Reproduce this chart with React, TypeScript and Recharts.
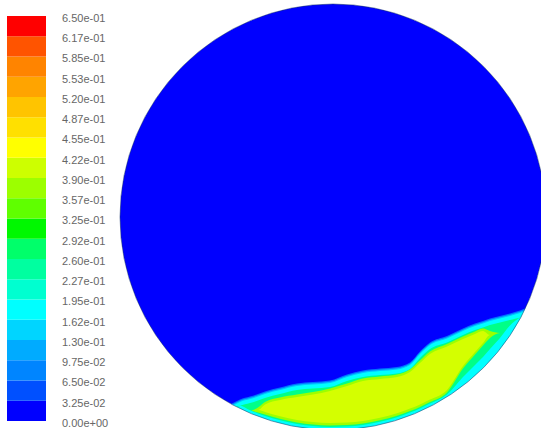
import React from 'react';
import { ComposedChart, Area, XAxis, YAxis, ReferenceDot, BarChart, Bar } from 'recharts';

// ---------- colour scale (contour levels) ----------
const levels = [
  0, 0.0325, 0.065, 0.0975, 0.13, 0.1625, 0.195, 0.2275, 0.26, 0.2925, 0.325,
  0.3575, 0.39, 0.4225, 0.455, 0.4875, 0.52, 0.5525, 0.585, 0.6175, 0.65,
];
const levelLabels = [
  '0.00e+00', '3.25e-02', '6.50e-02', '9.75e-02', '1.30e-01', '1.62e-01', '1.95e-01',
  '2.27e-01', '2.60e-01', '2.92e-01', '3.25e-01', '3.57e-01', '3.90e-01', '4.22e-01',
  '4.55e-01', '4.87e-01', '5.20e-01', '5.53e-01', '5.85e-01', '6.17e-01', '6.50e-01',
];
const bandColors = [
  '#0000ff', '#0050ff', '#0085ff', '#00abff', '#00d5ff', '#00ffff', '#00ffd0',
  '#00ffa0', '#00ff6a', '#00f800', '#5fff00', '#9cff00', '#cdff00', '#ffff00',
  '#ffe000', '#ffc400', '#ffa400', '#ff8400', '#ff5400', '#ff0000',
];

// ---------- cross-section (circle radius 213, centre at 0,0) ----------
const sectionRadius = 213;
const posX = [-107, -101, -93, -83, -75, -68, -53, -36, -20, -3, 14, 30, 47, 64, 77, 87, 97, 114, 130, 142, 150, 157, 167, 177, 187, 197];
// contour boundaries of the plume
const edgeTop = [-189.5, -186.5, -182.5, -179.5, -177, -174.5, -170.5, -166.5, -165, -163.5, -157.5, -153.5, -151.5, -150, -145.5, -134.5, -125.5, -119, -111.5, -106.5, -104, -101.5, -99, -96.5, -93.5, -89.5];
const skyTop = [-190.8, -187.8, -183.8, -180.8, -178.3, -175.8, -171.8, -167.8, -166.3, -164.8, -158.8, -154.8, -152.8, -151.3, -146.8, -135.8, -126.8, -120.3, -112.8, -107.8, -105.3, -102.8, -100.3, -97.8, -94.8, -90.8];
const outerBottom = [-196, -200, -204, -208, -211, -214, -218, -222, -224, -225, -225, -223, -220, -215, -211, -206, -202, -192, -181, -171, -163, -156, -144, -131, -114, -93];
const cyanTop = [-192, -189, -185, -182, -179.5, -177, -173, -169, -167.5, -166, -160, -156, -154, -152.5, -148, -137, -128, -121.5, -114, -109, -106.5, -104, -101.5, -99, -96, -92];
const greenTop = [-196, -193, -188.8, -186, -183.5, -181, -177, -173, -171.5, -170, -164, -160, -158, -156.5, -152, -141, -132, -125.5, -118, -113, -110.5, -108, -105.5, -103, -100.5, -96];
const greenBottom = [-196, -193, -188.8, -193.2, -196.4, -198.9, -203.3, -206.9, -209.1, -210, -209.5, -207.9, -204.8, -200.2, -195.6, -191.4, -186.6, -177.5, -160, -148, -140, -132, -121, -108.5, -100.5, -96];
const limeTop = [-193.5, -193.5, -193.5, -193.5, -190.5, -185, -180.5, -177.5, -175, -171.5, -166.5, -161.5, -159.5, -157.5, -152.5, -143.5, -134.5, -127, -119.5, -114.5, -111.5, -114, -116, -116, -116, -116];
const limeBottom = [-193.5, -193.5, -193.5, -193.5, -195.5, -197.4, -201.8, -205.4, -207.6, -208.5, -208, -206.4, -203.3, -198.7, -194.1, -189.9, -185.1, -175.4, -151.5, -137.5, -128.5, -121, -116, -116, -116, -116];
const coreTop = [-193, -193, -193, -193, -193, -187.5, -183, -180, -177.5, -174, -169, -164, -162, -160, -155, -146, -137, -129.5, -122, -117, -114, -118, -118, -118, -118, -118];
const coreBottom = [-193, -193, -193, -193, -193, -194.9, -199.3, -202.9, -205.1, -206, -205.5, -203.9, -200.8, -196.2, -191.6, -187.4, -182.6, -172.9, -149, -135, -126, -118, -118, -118, -118, -118];

const plumeRows = posX.map((x, i) => ({
  x,
  edge: [outerBottom[i], edgeTop[i]],
  sky: [outerBottom[i], skyTop[i]],
  cyan: [outerBottom[i], cyanTop[i]],
  green: [greenBottom[i], greenTop[i]],
  lime: [limeBottom[i], limeTop[i]],
  core: [coreBottom[i], coreTop[i]],
}));

const legendRow: Record<string, number | string> = { name: 'scale' };
bandColors.forEach((_, i) => {
  legendRow[`b${i}`] = levels[i + 1] - levels[i];
});

const W = 560;
const H = 440;
const M = { top: 4, left: 120, right: 14, bottom: 10 };
const layer: React.CSSProperties = { position: 'absolute', left: 0, top: 0 };

const plumeLayers = [
  { key: 'edge', color: '#0070ff' },
  { key: 'sky', color: '#00c0ff' },
  { key: 'cyan', color: '#00ffff' },
  { key: 'green', color: '#00ff88' },
  { key: 'lime', color: '#9cff00' },
  { key: 'core', color: '#d4ff00' },
];

export default function App() {
  const dom: [number, number] = [-sectionRadius, sectionRadius];
  return (
    <div style={{ position: 'absolute', left: 0, top: 0, width: 541, height: 428, overflow: 'hidden', background: '#fff' }}>
      <div style={layer}>
        <ComposedChart width={W} height={H} data={plumeRows} margin={M}>
          <XAxis type="number" dataKey="x" domain={dom} allowDataOverflow hide height={0} />
          <YAxis type="number" domain={dom} allowDataOverflow hide width={0} />
          <ReferenceDot x={0} y={0} r={sectionRadius} fill="#0000ff" stroke="none" ifOverflow="visible" />
        </ComposedChart>
      </div>
      <div style={layer}>
        <ComposedChart width={W} height={H} data={plumeRows} margin={M}>
          <XAxis type="number" dataKey="x" domain={dom} allowDataOverflow hide height={0} />
          <YAxis type="number" domain={dom} allowDataOverflow hide width={0} />
          {plumeLayers.map((l) => (
            <Area
              key={l.key}
              type="monotone"
              dataKey={l.key}
              fill={l.color}
              fillOpacity={1}
              stroke="none"
              isAnimationActive={false}
              dot={false}
              activeDot={false}
            />
          ))}
        </ComposedChart>
      </div>
      <div style={layer}>
        <ComposedChart width={W} height={H} data={plumeRows} margin={M}>
          <XAxis type="number" dataKey="x" domain={dom} allowDataOverflow hide height={0} />
          <YAxis type="number" domain={dom} allowDataOverflow hide width={0} />
          <ReferenceDot x={0} y={0} r={sectionRadius + 20} fill="none" stroke="#ffffff" strokeWidth={40} ifOverflow="visible" />
          <ReferenceDot x={0} y={0} r={sectionRadius} fill="none" stroke="#1f3b70" strokeOpacity={0.55} strokeWidth={1} ifOverflow="visible" />
        </ComposedChart>
      </div>
      <div style={layer}>
        <BarChart width={116} height={428} data={[legendRow]} margin={{ top: 16, right: 0, bottom: 7, left: 7 }} barCategoryGap={0} barGap={0}>
          <XAxis type="category" dataKey="name" hide height={0} />
          <YAxis
            type="number"
            orientation="right"
            width={70}
            domain={[0, 0.65]}
            allowDataOverflow
            ticks={levels}
            interval={0}
            axisLine={false}
            tickLine={false}
            tickSize={0}
            tickMargin={16}
            tickFormatter={(v: number) => {
              const i = levels.findIndex((l) => Math.abs(l - v) < 1e-6);
              return i >= 0 ? levelLabels[i] : '';
            }}
            tick={{ fontSize: 11, fill: '#666666', fontFamily: '"Liberation Sans", Arial, sans-serif', dy: 2 }}
          />
          {bandColors.map((c, i) => (
            <Bar key={i} dataKey={`b${i}`} stackId="s" fill={c} isAnimationActive={false} />
          ))}
        </BarChart>
      </div>
    </div>
  );
}
